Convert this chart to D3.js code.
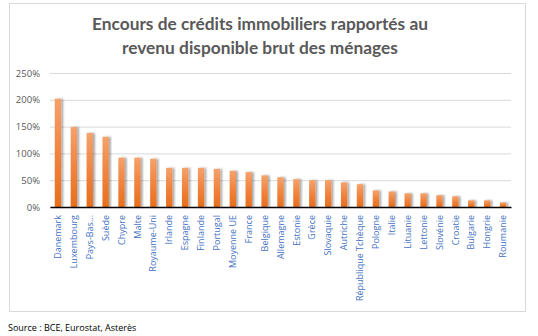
<!DOCTYPE html>
<html><head><meta charset="utf-8">
<script src="https://cdn.jsdelivr.net/npm/d3@7"></script>
<style>body{margin:0;background:#fff}svg{display:block}</style>
</head><body>
<svg id="c" width="538" height="336"></svg>
<script>
const categories = ["Danemark","Luxembourg","Pays-Bas...","Suède","Chypre","Malte","Royaume-Uni","Irlande","Espagne","Finlande","Portugal","Moyenne UE","France","Belgique","Allemagne","Estonie","Grèce","Slovaquie","Autriche","République Tchèque","Pologne","Italie","Lituanie","Lettonie","Slovénie","Croatie","Bulgarie","Hongrie","Roumanie"];
const values = [202,149,138,131,92,92,90,73,73,73,71,67.5,65,59,55.5,52,50,50,46,42.5,31,29,25.5,25.5,22,20,12.5,12.5,8.5];
const yTicks = [0,50,100,150,200,250];
const titleLines = ["Encours de crédits immobiliers rapportés au","revenu disponible brut des ménages"];
const sourceText = "Source : BCE, Eurostat, Asterès";

const svg = d3.select("#c");
const defs = svg.append("defs");
const grad = defs.append("linearGradient").attr("id","g").attr("x1",0).attr("y1",0).attr("x2",0).attr("y2",1);
grad.append("stop").attr("offset","0%").attr("stop-color","#f5a26c");
grad.append("stop").attr("offset","50%").attr("stop-color","#f0843f");
grad.append("stop").attr("offset","100%").attr("stop-color","#e86e1c");
const f = defs.append("filter").attr("id","sh").attr("x","-50%").attr("y","-10%").attr("width","200%").attr("height","120%");
f.append("feDropShadow").attr("dx",2).attr("dy",0).attr("stdDeviation",1.2).attr("flood-color","#000").attr("flood-opacity",0.35);

svg.append("rect").attr("x",9.5).attr("y",3.5).attr("width",516).attr("height",308)
  .attr("fill","#fff").attr("stroke","#d9d9d9");

// title
const tg = svg.append("g");
titleLines.forEach((t,i)=>{
  tg.append("text").attr("x",260).attr("y",30+i*24).attr("text-anchor","middle")
    .attr("font-family","Lato, 'Open Sans', sans-serif").attr("font-weight","bold")
    .attr("font-size",19).attr("fill","#595959").text(t);
});
// fit first line width to ~336px
const w0 = tg.select("text").node().getComputedTextLength();
const fs = 19*336/w0;
tg.selectAll("text").attr("font-size",fs);

const m = {l:50,r:511,t:73,b:207};
const x = d3.scaleBand().domain(categories).range([m.l,m.r]).paddingInner(0.6).paddingOuter(0.3);
const y = d3.scaleLinear().domain([0,250]).range([m.b,m.t]);

const ya = svg.append("g").attr("transform",`translate(${m.l},0)`)
  .call(d3.axisLeft(y).tickValues(yTicks).tickSize(-(m.r-m.l)).tickFormat(d=>d+"%"));
ya.select(".domain").remove();
ya.selectAll(".tick line").attr("stroke","#d9d9d9").attr("stroke-width",1);
ya.selectAll(".tick text").attr("x",-10).attr("fill","#595959")
  .attr("font-family","'Open Sans', sans-serif").attr("font-size",9.5);

svg.append("g").selectAll("rect").data(values).join("rect")
  .attr("x",(d,i)=>x(categories[i])).attr("width",x.bandwidth())
  .attr("y",d=>y(d)).attr("height",d=>y(0)-y(d))
  .attr("fill","url(#g)").attr("filter","url(#sh)");

const xa = svg.append("g").attr("transform",`translate(0,${m.b})`)
  .call(d3.axisBottom(x).tickSize(0));
xa.select(".domain").attr("stroke","#000").attr("stroke-width",1.5);
xa.selectAll(".tick text")
  .attr("transform","rotate(-90)").attr("text-anchor","end")
  .attr("x",-8).attr("y",0).attr("dy","0.35em")
  .attr("fill","#4472c4").attr("font-family","'Open Sans', sans-serif").attr("font-size",9);

svg.append("text").attr("x",8).attr("y",331).attr("font-family","'Open Sans', sans-serif")
  .attr("font-size",9).attr("fill","#000").text(sourceText);
</script>
</body></html>
